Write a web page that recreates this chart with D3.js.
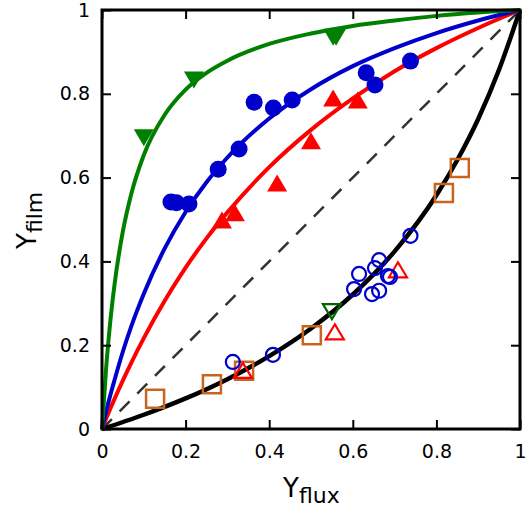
<!DOCTYPE html>
<html>
<head>
<meta charset="utf-8">
<script src="https://cdn.jsdelivr.net/npm/d3@7"></script>
<style>
  body { margin: 0; background: #fff; }
  text { font-family: "DejaVu Sans", sans-serif; fill: #000; }
</style>
</head>
<body>
<div id="chart"></div>
<script>
// fitted curves
const curveX = [0, 0.01, 0.02, 0.03, 0.05, 0.07, 0.1, 0.15, 0.2, 0.25, 0.3, 0.4, 0.5, 0.6, 0.7, 0.8, 0.9, 1];
const greenCurve = [0, 0.147, 0.258, 0.345, 0.472, 0.561, 0.654, 0.750, 0.810, 0.850, 0.879, 0.919, 0.944, 0.962, 0.975, 0.986, 0.994, 1];
const blueCurve = [0, 0.042, 0.081, 0.117, 0.185, 0.245, 0.323, 0.431, 0.518, 0.589, 0.648, 0.741, 0.811, 0.866, 0.909, 0.945, 0.975, 1];
const redCurve = [0, 0.025, 0.049, 0.072, 0.116, 0.158, 0.217, 0.306, 0.385, 0.455, 0.517, 0.625, 0.714, 0.789, 0.854, 0.909, 0.957, 1];
const blackX = [0, 0.1, 0.2, 0.3, 0.4, 0.5, 0.6, 0.7, 0.8, 0.85, 0.9, 0.95, 1];
const blackCurve = [0, 0.034, 0.073, 0.119, 0.174, 0.240, 0.321, 0.424, 0.558, 0.642, 0.740, 0.858, 1];

// measured points [x, y]
const greenFilled = [[0.10, 0.695], [0.22, 0.833], [0.553, 0.935], [0.56, 0.935]];
const blueFilled = [[0.165, 0.542], [0.178, 0.540], [0.208, 0.537], [0.278, 0.620], [0.328, 0.668],
  [0.364, 0.780], [0.41, 0.766], [0.455, 0.785], [0.632, 0.850], [0.653, 0.821], [0.738, 0.878]];
const redFilled = [[0.287, 0.499], [0.318, 0.516], [0.419, 0.587], [0.50, 0.688], [0.553, 0.790], [0.612, 0.785]];
const blueOpen = [[0.313, 0.160], [0.409, 0.177], [0.603, 0.334], [0.615, 0.370], [0.646, 0.322],
  [0.653, 0.384], [0.663, 0.403], [0.663, 0.330], [0.684, 0.365], [0.689, 0.363], [0.738, 0.461]];
const redOpen = [[0.337, 0.140], [0.557, 0.232], [0.708, 0.380]];
const greenOpen = [[0.55, 0.280]];
const orangeOpen = [[0.127, 0.072], [0.263, 0.107], [0.34, 0.139], [0.502, 0.224], [0.818, 0.563], [0.856, 0.623]];

const ticks = [0, 0.2, 0.4, 0.6, 0.8, 1];

const W = 526, H = 512;
const margin = { top: 10, left: 102 };
const width = 418, height = 419;

const svg = d3.select("#chart").append("svg")
  .attr("width", W)
  .attr("height", H);

const g = svg.append("g")
  .attr("transform", "translate(" + margin.left + "," + margin.top + ")");

const x = d3.scaleLinear().domain([0, 1]).range([0, width]);
const y = d3.scaleLinear().domain([0, 1]).range([height, 0]);

const plot = g.append("g");

// diagonal
plot.append("path")
  .datum([0, 1])
  .attr("d", d3.line().x(d => x(d)).y(d => y(d)))
  .attr("stroke", "#333")
  .attr("stroke-width", 2.5)
  .attr("stroke-dasharray", "14,11")
  .attr("fill", "none");

const line = d3.line()
  .curve(d3.curveMonotoneX)
  .x(d => x(d[0]))
  .y(d => y(d[1]));

const curves = [
  { xs: blackX, ys: blackCurve, color: "#000", w: 4.5 },
  { xs: curveX, ys: redCurve, color: "#ff0000", w: 4 },
  { xs: curveX, ys: blueCurve, color: "#0000cc", w: 4 },
  { xs: curveX, ys: greenCurve, color: "#008000", w: 4 }
];
curves.forEach(c => {
  plot.append("path")
    .datum(c.xs.map((v, i) => [v, c.ys[i]]))
    .attr("d", line)
    .attr("stroke", c.color)
    .attr("stroke-width", c.w)
    .attr("fill", "none");
});

function tri(w, h, up) {
  const s = up ? 1 : -1;
  return "M0," + (-s * h / 2) + "L" + (w / 2) + "," + (s * h / 2) + "L" + (-w / 2) + "," + (s * h / 2) + "Z";
}

function markers(data, shape, color, filled) {
  const sel = plot.append("g").selectAll("path")
    .data(data)
    .join("path")
    .attr("transform", d => "translate(" + x(d[0]) + "," + y(d[1]) + ")")
    .attr("d", shape)
    .attr("fill", filled ? color : "none")
    .attr("stroke", filled ? "none" : color)
    .attr("stroke-width", filled ? 0 : 2.2);
  return sel;
}

const circle = r => "M" + r + ",0A" + r + "," + r + " 0 1,1 " + (-r) + ",0A" + r + "," + r + " 0 1,1 " + r + ",0Z";

markers(orangeOpen, "M-9,-9H9V9H-9Z", "#c8641e", false).attr("stroke-width", 2.5);
markers(greenOpen, tri(18, 15, false), "#006400", false);
markers(redOpen, tri(18, 15, true), "#ff0000", false);
markers(blueOpen, circle(7), "#0000cc", false);
markers(redFilled, tri(20, 17, true), "#ff0000", true);
markers(blueFilled, circle(8.5), "#0000cc", true);
markers(greenFilled, tri(20, 17, false), "#008000", true);

// axes
const fmt = d3.format("~g");
const xAxis = g.append("g")
  .attr("transform", "translate(0," + height + ")")
  .call(d3.axisBottom(x).tickValues(ticks).tickSize(-9).tickPadding(16).tickFormat(fmt));
const yAxis = g.append("g")
  .call(d3.axisLeft(y).tickValues(ticks).tickSize(-9).tickPadding(12).tickFormat(fmt));
const topAxis = g.append("g")
  .call(d3.axisTop(x).tickValues(ticks).tickSize(-9).tickFormat(""));
const rightAxis = g.append("g")
  .attr("transform", "translate(" + width + ",0)")
  .call(d3.axisRight(y).tickValues(ticks).tickSize(-9).tickFormat(""));

[xAxis, yAxis, topAxis, rightAxis].forEach(a => {
  a.select(".domain").remove();
  a.selectAll(".tick line").attr("stroke", "#000").attr("stroke-width", 2);
  a.selectAll(".tick text")
    .style("font-family", "'DejaVu Sans', sans-serif")
    .style("font-size", "19px")
    .attr("fill", "#000");
});

g.append("rect")
  .attr("width", width)
  .attr("height", height)
  .attr("fill", "none")
  .attr("stroke", "#000")
  .attr("stroke-width", 3);

// labels
const xl = svg.append("text")
  .attr("x", 283)
  .attr("y", 497)
  .style("font-size", "26px");
xl.append("tspan").text("Y");
xl.append("tspan").attr("dy", 6).style("font-size", "22px").text("flux");

const yl = svg.append("text")
  .attr("transform", "translate(36,249) rotate(-90)")
  .style("font-size", "26px");
yl.append("tspan").text("Y");
yl.append("tspan").attr("dy", 6).style("font-size", "22px").text("film");
</script>
</body>
</html>
